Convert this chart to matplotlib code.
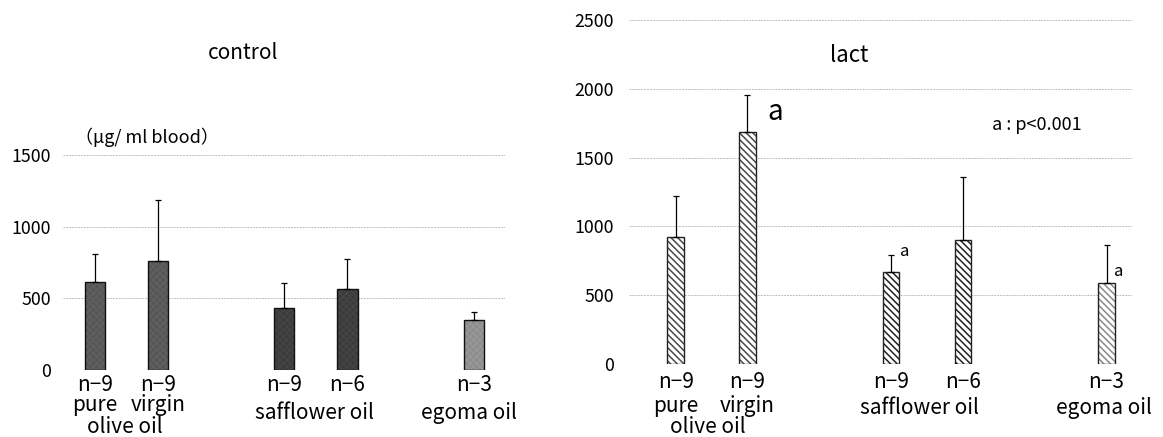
import matplotlib
matplotlib.use('Agg')
import matplotlib.pyplot as plt

plt.rcParams['font.family'] = ['Noto Sans CJK JP', 'DejaVu Sans']
plt.rcParams['hatch.linewidth'] = 1.1

# データ
positions = [0, 1, 3, 4, 6]
n_labels = ['n−9', 'n−9', 'n−9', 'n−6', 'n−3']
olive_types = ['pure', 'virgin']
oil_names = ['olive oil', 'safflower oil', 'egoma oil']

control_mean = [616, 760, 430, 563, 347]
control_sd = [191, 423, 179, 213, 57]

lact_mean = [923, 1686, 667, 899, 592]
lact_sd = [295, 266, 122, 463, 273]

control_colors = ['#555555', '#555555', '#3b3b3b', '#3b3b3b', '#8c8c8c']
control_texture = ['#5f5f5f', '#5f5f5f', '#444444', '#444444', '#979797']
lact_hatch_colors = ['#4a4a4a', '#4a4a4a', '#222222', '#222222', '#8a8a8a']

fig = plt.figure(figsize=(11.63, 4.37), dpi=100)
ax1 = fig.add_axes([0.0543, 0.1533, 0.3803, 0.820])
ax2 = fig.add_axes([0.5408, 0.167, 0.4323, 0.787])


def style_axis(ax, ticks, xlim):
    ax.set_ylim(0, 2500)
    ax.set_xlim(*xlim)
    ax.set_yticks(ticks)
    ax.set_xticks([])
    for s in ax.spines.values():
        s.set_visible(False)
    ax.tick_params(axis='y', length=0, labelsize=12.8)
    ax.yaxis.grid(True, color='#bdbdbd', linewidth=0.7, linestyle=(0, (2, 1)))
    ax.set_axisbelow(True)


def category_labels(ax, n_off, type_off, olive_off, oil_off, olive_x, saff_x, egoma_x):
    for x, lab in zip(positions, n_labels):
        ax.annotate(lab, xy=(x, 0), xytext=(0, -n_off), textcoords='offset points',
                    ha='center', va='center', fontsize=15, annotation_clip=False)
    for x, lab in zip(positions[:2], olive_types):
        ax.annotate(lab, xy=(x, 0), xytext=(0, -type_off), textcoords='offset points',
                    ha='center', va='center', fontsize=15, annotation_clip=False)
    ax.annotate(oil_names[0], xy=(olive_x, 0), xytext=(0, -olive_off), textcoords='offset points',
                ha='center', va='center', fontsize=15, annotation_clip=False)
    ax.annotate(oil_names[1], xy=(saff_x, 0), xytext=(0, -oil_off), textcoords='offset points',
                ha='center', va='center', fontsize=15, annotation_clip=False)
    ax.annotate(oil_names[2], xy=(egoma_x, 0), xytext=(0, -oil_off), textcoords='offset points',
                ha='center', va='center', fontsize=15, annotation_clip=False)


# control
style_axis(ax1, [0, 500, 1000, 1500], (-0.5, 6.5))
ax1.tick_params(axis='y', pad=9)
ax1.bar(positions, control_mean, width=0.32, color=control_colors,
        edgecolor=control_texture, hatch='xxxxx', linewidth=0, zorder=2)
ax1.bar(positions, control_mean, width=0.32, fill=False,
        edgecolor='#111111', linewidth=1.0, zorder=3)
ax1.errorbar(positions, control_mean, yerr=[[0] * 5, control_sd], fmt='none',
             ecolor='black', elinewidth=0.9, capsize=2.5, capthick=0.9, zorder=4)
ax1.text(2.35, 2212, 'control', ha='center', va='center', fontsize=15)
ax1.text(-0.31, 1626, '（μg/ ml blood）', ha='left', va='center', fontsize=13)
category_labels(ax1, 10.8, 25.2, 41, 31, 0.48, 3.48, 5.93)

# lact
style_axis(ax2, [0, 500, 1000, 1500, 2000, 2500], (-0.65, 6.35))
ax2.tick_params(axis='y', pad=11)
ax2.bar(positions, lact_mean, width=0.23, color='white',
        edgecolor=lact_hatch_colors, hatch='\\' * 5, linewidth=0, zorder=2)
ax2.bar(positions, lact_mean, width=0.23, fill=False,
        edgecolor='#222222', linewidth=1.0, zorder=3)
ax2.errorbar(positions, lact_mean, yerr=[[0] * 5, lact_sd], fmt='none',
             ecolor='black', elinewidth=0.9, capsize=2.5, capthick=0.9, zorder=4)
ax2.text(2.41, 2246, 'lact', ha='center', va='center', fontsize=16)
ax2.text(1.38, 1834, 'a', ha='center', va='center', fontsize=20)
ax2.text(3.19, 816, 'a', ha='center', va='center', fontsize=12)
ax2.text(6.17, 671, 'a', ha='center', va='center', fontsize=12)
ax2.text(4.40, 1737, 'a : p<0.001', ha='left', va='center', fontsize=13)
category_labels(ax2, 13, 30, 45, 31.7, 0.45, 3.40, 5.97)

fig.savefig('out.png', dpi=100)
